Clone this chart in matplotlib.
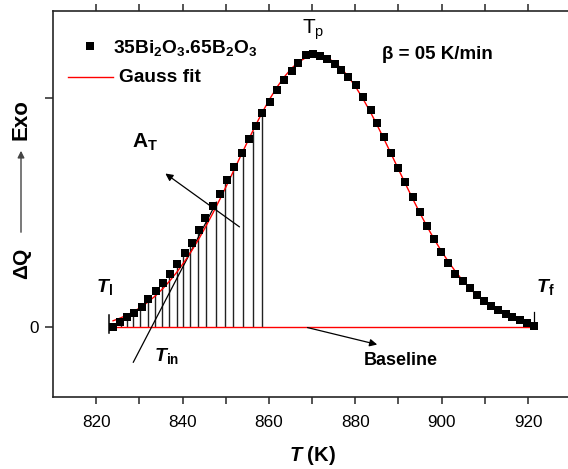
import matplotlib
matplotlib.use("Agg")
import matplotlib.pyplot as plt

plt.rcParams['font.family'] = ['Liberation Sans', 'DejaVu Sans']
plt.rcParams['mathtext.fontset'] = 'custom'
plt.rcParams['mathtext.rm'] = 'Liberation Sans'
plt.rcParams['mathtext.it'] = 'Liberation Sans:italic'
plt.rcParams['mathtext.bf'] = 'Liberation Sans:bold'
plt.rcParams['mathtext.bfit'] = 'Liberation Sans:italic:bold'

# ---- data (ΔQ in arbitrary units) ----
temps = [823.9, 825.5, 827.1, 828.8, 830.5, 832.1, 833.8, 835.5, 837.1, 838.8,
         840.6, 842.1, 843.8, 845.3, 847.1, 848.7, 850.2, 852.0, 853.7, 855.3,
         857.0, 858.5, 860.2, 861.9, 863.5, 865.3, 866.8, 868.6, 870.3, 871.8,
         873.5, 875.3, 876.8, 878.4, 880.1, 881.8, 883.6, 885.0, 886.6, 888.2,
         889.9, 891.6, 893.3, 895.0, 896.6, 898.2, 899.9, 901.5, 903.2, 904.9,
         906.5, 908.2, 909.8, 911.5, 913.1, 914.8, 916.4, 918.1, 919.7, 921.4]
dq = [0, 5.3, 9.7, 14.3, 20.3, 28, 36.3, 43.7, 53, 63,
      73.7, 84, 97, 108.7, 121, 133.5, 147, 160.5, 174.3, 188,
      201, 213.7, 225.5, 237, 247, 256.3, 264.3, 272, 273, 271,
      267.7, 262.7, 257, 250.3, 242, 230.3, 217, 204.5, 190, 174.3,
      159.3, 144.7, 129.7, 115.3, 101, 88, 75, 64, 53, 46,
      39, 32, 26, 21, 17, 12.7, 9.7, 7, 4.3, 1.5]
gauss_fit = [6.4, 9.0, 12.0, 15.9, 20.5, 25.5, 31.7, 38.9, 46.6, 55.7,
             66.5, 76.4, 88.5, 100.1, 114.7, 128.4, 141.7, 157.9, 173.4, 187.8,
             202.6, 215.1, 228.3, 240.2, 250.0, 259.1, 264.9, 269.7, 271.8, 271.7,
             269.5, 264.6, 258.6, 250.6, 240.2, 228.3, 214.3, 202.6, 188.6, 174.3,
             158.8, 143.5, 128.4, 113.9, 100.8, 88.5, 76.4, 65.9, 55.7, 46.6,
             38.9, 31.7, 25.9, 20.5, 16.1, 12.2, 9.1, 6.4, 4.3, 2.5]
# partial-area drop lines
drop_t = [824.4, 825.7, 827.1, 828.6, 830.2, 832.1, 833.7, 835.3, 836.9, 838.7,
          840.2, 841.8, 843.5, 845.4, 847.8, 849.9, 851.7, 853.9, 856.4, 858.5]
drop_h = [1.7, 5.8, 9.7, 13.8, 19.2, 28, 35.8, 42.8, 51.8, 62.4,
          71.3, 82, 94.7, 109.5, 126.4, 144.3, 158.2, 176, 196.4, 213.7]
# tangent at inflection
tangent_t = [828.6, 847.5]
tangent_q = [-35, 122]
t_start, t_end = 823.9, 921.6
x_ticks = [820, 840, 860, 880, 900, 920]

W, H = 568, 469
fig = plt.figure(figsize=(W / 100, H / 100), dpi=100)
ax = fig.add_axes([53 / W, 1 - 396.7 / H, (571.2 - 53) / W, (396.7 - 10.7) / H])

ax.set_xlim(810, 930)
ax.set_ylim(-69.5, 316.5)

# drop lines
ax.vlines(drop_t, 0, drop_h, colors='#222222', lw=1.0, zorder=1)
# baseline
ax.plot([t_start, t_end], [0, 0], color='red', lw=1.0, zorder=2)
# fit
ax.plot(temps, gauss_fit, color='red', lw=1.0, zorder=3)
# data
ax.plot(temps, dq, ls='none', marker='s', ms=5.7, mew=0, color='black', zorder=4)
# tangent
ax.plot(tangent_t, tangent_q, color='black', lw=0.9, zorder=2)
# Ti / Tf markers
ax.plot([823.0, 823.0], [-6, 12], color='black', lw=1.1)
ax.plot([921.3, 921.3], [-1, 15], color='black', lw=0.9)

# arrows
ax.annotate('', xy=(835.5, 155.3), xytext=(853.7, 98.7),
            arrowprops=dict(arrowstyle='-|>', lw=0.9, color='black', mutation_scale=11))
ax.annotate('', xy=(885.7, -18), xytext=(868.3, 0.3),
            arrowprops=dict(arrowstyle='-|>', lw=0.9, color='black', mutation_scale=11))

# texts
ax.text(828.3, 185, r'$\mathbf{A_T}$', fontsize=15, ha='left', va='center')
ax.text(867.6, 297.5, r'$\mathrm{T_p}$', fontsize=15, ha='left', va='center')
ax.text(820.0, 40, r'$\mathbfit{T}_{\mathbf{l}}$', fontsize=14, ha='left', va='center')
ax.text(833.4, -29, r'$\mathbfit{T}_{\mathbf{in}}$', fontsize=14, ha='left', va='center')
ax.text(921.8, 40, r'$\mathbfit{T}_{\mathbf{f}}$', fontsize=14, ha='left', va='center')
ax.text(890.6, -33, 'Baseline', fontsize=13, fontweight='bold', ha='center', va='center')
ax.text(886.2, 273, 'β = 05 K/min', fontsize=13.5, fontweight='bold', ha='left', va='center')

# legend (manual)
ax.plot([818.6], [281], ls='none', marker='s', ms=5.7, mew=0, color='black', clip_on=False)
ax.text(823.9, 279, r'$\mathbf{35Bi_2O_3.65B_2O_3}$', fontsize=13.8, ha='left', va='center')
ax.plot([813.5, 823.8], [250, 250], color='red', lw=1.0)
ax.text(825.2, 250, 'Gauss fit', fontsize=13.8, fontweight='bold', ha='left', va='center')

# axes styling
for s in ax.spines.values():
    s.set_linewidth(1.2)
    s.set_color('#262626')
ax.set_xticks(x_ticks)
ax.set_xticks([830, 850, 870, 890, 910, 930], minor=True)
ax.set_yticks([0, 229])
ax.set_yticklabels(['0', ''])
ax.tick_params(axis='x', which='both', direction='out', length=5, width=1.1,
               labelsize=12.3, pad=8, top=True, color='#262626')
ax.tick_params(axis='y', which='both', direction='out', length=6, width=1.1,
               labelsize=12.3, pad=4, right=False, color='#262626')
ax.set_xlabel(r'$\mathbfit{T}$ (K)', fontsize=14.5, fontweight='bold', labelpad=10)

# y label composed: ΔQ ---> Exo
fig.text(22 / W, 1 - 263 / H, 'ΔQ', rotation=90, fontsize=15, fontweight='bold',
         ha='center', va='center')
fig.text(21.5 / W, 1 - 120 / H, 'Exo', rotation=90, fontsize=16, fontweight='bold',
         ha='center', va='center')
ax.annotate('', xy=(21 / W, 1 - 148 / H), xytext=(21 / W, 1 - 235 / H),
            xycoords='figure fraction', textcoords='figure fraction',
            arrowprops=dict(arrowstyle='-|>', lw=1.0, color='#444444', mutation_scale=10))

fig.savefig('out.png', dpi=100)
